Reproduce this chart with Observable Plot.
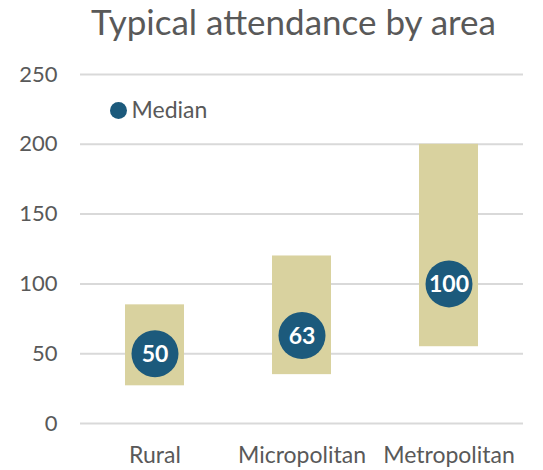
<!DOCTYPE html>
<html>
<head>
<meta charset="utf-8">
<script src="https://cdn.jsdelivr.net/npm/d3@7"></script>
<script src="https://cdn.jsdelivr.net/npm/@observablehq/plot@0.6"></script>
<style>
  html, body { margin: 0; padding: 0; background: #fff; }
  #wrap { width: 543px; font-family: Lato, "Open Sans", sans-serif; }
  #title { height: 50px; box-sizing: border-box; padding-top: 1px; padding-left: 44px; text-align: center; font-size: 35px; color: #595959; line-height: 40px; white-space: nowrap; }
  svg { display: block; }
</style>
</head>
<body>
<div id="wrap">
  <div id="title">Typical attendance by area</div>
  <div id="chart"></div>
</div>
<script>
const categories = ["Rural", "Micropolitan", "Metropolitan"];
const lows = [27, 35, 55];
const highs = [85, 120, 200];
const medians = [50, 63, 100];
const yTicks = [0, 50, 100, 150, 200, 250];
const legendLabel = "Median";

const rows = categories.map((c, i) => ({area: c, low: lows[i], high: highs[i], median: medians[i]}));

const barColor = "#D9D29F";
const dotColor = "#1C5A7C";
const textColor = "#595959";

const chart = Plot.plot({
  width: 543,
  height: 420,
  marginTop: 24,
  marginBottom: 47,
  marginLeft: 80,
  marginRight: 20,
  style: {fontFamily: "Lato, 'Open Sans', sans-serif", fontSize: "22px", color: textColor, background: "#fff"},
  x: {domain: categories, paddingInner: 0.6, paddingOuter: 0.3, label: null, tickSize: 0, tickPadding: 23, tickFormat: d => d},
  y: {domain: [0, 250], ticks: yTicks, label: null, tickSize: 0, tickPadding: 23},
  marks: [
    Plot.gridY(yTicks, {stroke: "#D9D9D9", strokeOpacity: 1, strokeWidth: 2}),
    Plot.barY(rows, {x: "area", y1: "low", y2: "high", fill: barColor}),
    Plot.dot(rows, {x: "area", y: "median", r: 23.5, fill: dotColor}),
    Plot.text(rows, {x: "area", y: "median", text: d => String(d.median), fill: "#fff", fontWeight: "bold", fontSize: 23, dy: 1}),
    Plot.dot([legendLabel], {frameAnchor: "top-left", dx: 38, dy: 36, r: 8.5, fill: dotColor}),
    Plot.text([legendLabel], {frameAnchor: "top-left", dx: 51, dy: 36, text: d => d, textAnchor: "start", lineAnchor: "middle", fill: textColor, fontSize: 23})
  ]
});
chart.querySelectorAll("[aria-label='x-axis tick label'] text").forEach(t => t.setAttribute("font-size", "23"));
document.getElementById("chart").appendChild(chart);
</script>
</body>
</html>
